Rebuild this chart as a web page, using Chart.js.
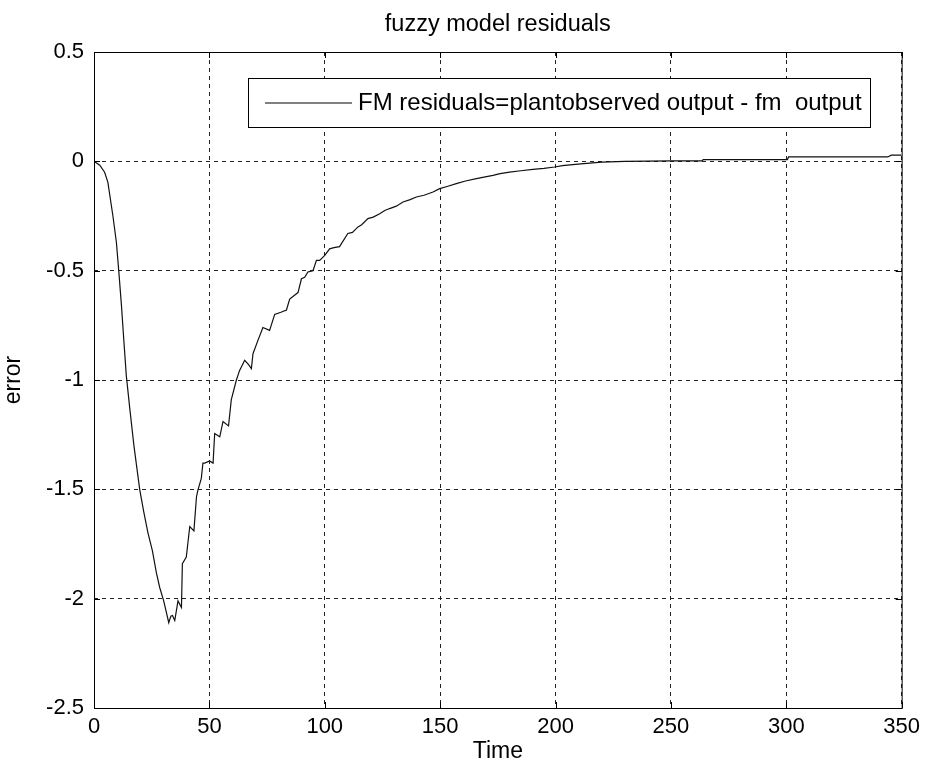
<!DOCTYPE html>
<html>
<head>
<meta charset="utf-8">
<script src="https://cdn.jsdelivr.net/npm/chart.js@4/dist/chart.umd.min.js"></script>
<style>
  html, body { margin: 0; padding: 0; background: #fff; }
  #wrap { width: 926px; height: 769px; }
</style>
</head>
<body>
<div id="wrap"><canvas id="chart" width="926" height="769"></canvas></div>
<script>
// values
const times = [0, 2.5, 4.6, 6, 8.2, 9.7, 10.8, 11.9, 13, 14, 15.5, 17.3, 19.8, 21.5, 23.4, 25.3, 27, 28.5, 30.2, 32.4,
  33.3, 34, 35, 36.4, 37.9, 38.3, 40, 41.5, 43.3, 44.4, 45, 46.5, 47.2, 48, 50.1, 51.6, 52.3, 54.5, 55.9, 58.3,
  59.5, 61.7, 63.1, 65.3, 67, 68.2, 68.9, 71, 73.2, 76.1, 78.3, 81, 83.4, 84.8, 88.4, 89.9, 91.3, 92.7, 94.9, 96.4,
  97.8, 100, 102.1, 104, 106.4, 110, 112, 114.4, 116, 118.7, 121, 123.8, 126, 128.1, 131, 133.9, 137, 139.7, 143, 146.9,
  149.8, 153, 157, 161, 165.7, 169, 172.9, 176, 180.1, 185, 190.2, 195, 199.6, 203, 207.5, 211, 214.8, 220, 230, 240,
  250, 263.5, 264, 300.5, 301, 344, 345.5, 350];
const errors = [0, -0.018, -0.05, -0.095, -0.25, -0.37, -0.51, -0.66, -0.83, -0.98, -1.13, -1.3, -1.5, -1.6, -1.7, -1.78, -1.88, -1.95, -2.01, -2.11,
  -2.08, -2.077, -2.1, -2.01, -2.04, -1.84, -1.81, -1.67, -1.69, -1.535, -1.505, -1.45, -1.38, -1.38, -1.37, -1.38, -1.245, -1.26, -1.19, -1.21,
  -1.09, -1.0, -0.956, -0.91, -0.93, -0.948, -0.88, -0.82, -0.76, -0.773, -0.7, -0.69, -0.68, -0.63, -0.6, -0.537, -0.53, -0.506, -0.5, -0.453,
  -0.453, -0.43, -0.4, -0.395, -0.39, -0.33, -0.325, -0.3, -0.29, -0.262, -0.255, -0.24, -0.225, -0.216, -0.205, -0.186, -0.175, -0.163, -0.155, -0.14,
  -0.125, -0.115, -0.102, -0.09, -0.079, -0.072, -0.064, -0.056, -0.049, -0.043, -0.037, -0.032, -0.026, -0.02, -0.015, -0.012, -0.008, -0.004, 0, 0.001,
  0.002, 0.002, 0.008, 0.008, 0.02, 0.02, 0.028, 0.028];
const seriesLabel = "FM residuals=plantobserved output - fm  output";
const chartTitle = "fuzzy model residuals";
const xTicks = [0, 50, 100, 150, 200, 250, 300, 350];
const yTicks = [0.5, 0, -0.5, -1, -1.5, -2, -2.5];

const FONT = "'Liberation Sans', Arial, sans-serif";

// box round the plot, small inward ticks, title and the legend, matlab style
const framePlugin = {
    id: 'frame',
    afterDraw(chart) {
        const ctx = chart.ctx;
        const a = chart.chartArea;
        ctx.save();
        ctx.strokeStyle = '#000';
        ctx.lineWidth = 1;
        ctx.setLineDash([]);
        ctx.strokeRect(a.left + 0.5, a.top + 0.5, a.right - a.left, a.bottom - a.top);
        ctx.beginPath();
        xTicks.forEach(t => {
            const x = Math.round(chart.scales.x.getPixelForValue(t)) + 0.5;
            ctx.moveTo(x, a.bottom); ctx.lineTo(x, a.bottom - 6);
            ctx.moveTo(x, a.top); ctx.lineTo(x, a.top + 6);
        });
        yTicks.forEach(t => {
            const y = Math.round(chart.scales.y.getPixelForValue(t)) + 0.5;
            ctx.moveTo(a.left, y); ctx.lineTo(a.left + 6, y);
            ctx.moveTo(a.right, y); ctx.lineTo(a.right - 6, y);
        });
        ctx.stroke();

        // title, centred over the plot box
        ctx.fillStyle = '#000';
        ctx.font = '23.5px ' + FONT;
        ctx.textAlign = 'center';
        ctx.textBaseline = 'alphabetic';
        ctx.fillText(chartTitle, (a.left + a.right) / 2, a.top - 21);

        // legend
        const bx = a.left + 154, by = a.top + 26, bw = 622, bh = 49;
        ctx.fillStyle = '#fff';
        ctx.fillRect(bx, by, bw, bh);
        ctx.strokeRect(bx + 0.5, by + 0.5, bw, bh);
        const my = by + bh / 2;
        ctx.beginPath();
        ctx.moveTo(bx + 17, my + 0.5);
        ctx.lineTo(bx + 104, my + 0.5);
        ctx.stroke();
        ctx.fillStyle = '#000';
        ctx.font = '24px ' + FONT;
        ctx.textBaseline = 'middle';
        ctx.textAlign = 'left';
        ctx.fillText(chart.data.datasets[0].label, bx + 110, my + 1);
        ctx.restore();
    }
};

new Chart('chart', {
    type: 'scatter',
    data: {
        datasets: [{
            label: seriesLabel,
            data: times.map((t, i) => ({ x: t, y: errors[i] })),
            showLine: true,
            borderColor: '#111',
            borderWidth: 1.2,
            pointRadius: 0,
            tension: 0
        }]
    },
    options: {
        responsive: false,
        animation: false,
        layout: { padding: { left: 0, right: 23, top: 52, bottom: 0 } },
        plugins: {
            legend: { display: false },
            tooltip: { enabled: false },
            title: { display: false }
        },
        scales: {
            x: {
                type: 'linear',
                min: 0,
                max: 350,
                afterFit: s => { s.height = 61; },
                afterBuildTicks: s => { s.ticks = xTicks.map(v => ({ value: v })); },
                ticks: { color: '#000', font: { family: FONT, size: 22 }, padding: 6 },
                grid: { color: '#222', lineWidth: 1, drawTicks: false },
                border: { display: false, dash: [4, 4] },
                title: {
                    display: true,
                    text: 'Time',
                    color: '#000',
                    font: { family: FONT, size: 23 },
                    padding: { top: 0, bottom: 4 }
                }
            },
            y: {
                type: 'linear',
                min: -2.5,
                max: 0.5,
                afterFit: s => { s.width = 94; },
                afterBuildTicks: s => { s.ticks = yTicks.map(v => ({ value: v })); },
                ticks: {
                    color: '#000',
                    font: { family: FONT, size: 22 },
                    padding: 10,
                    callback: v => String(v)
                },
                grid: { color: '#222', lineWidth: 1, drawTicks: false },
                border: { display: false, dash: [4, 4] },
                title: {
                    display: true,
                    text: 'error',
                    color: '#000',
                    font: { family: FONT, size: 23 },
                    padding: { top: 0, bottom: 8 }
                }
            }
        }
    },
    plugins: [framePlugin]
});
</script>
</body>
</html>
